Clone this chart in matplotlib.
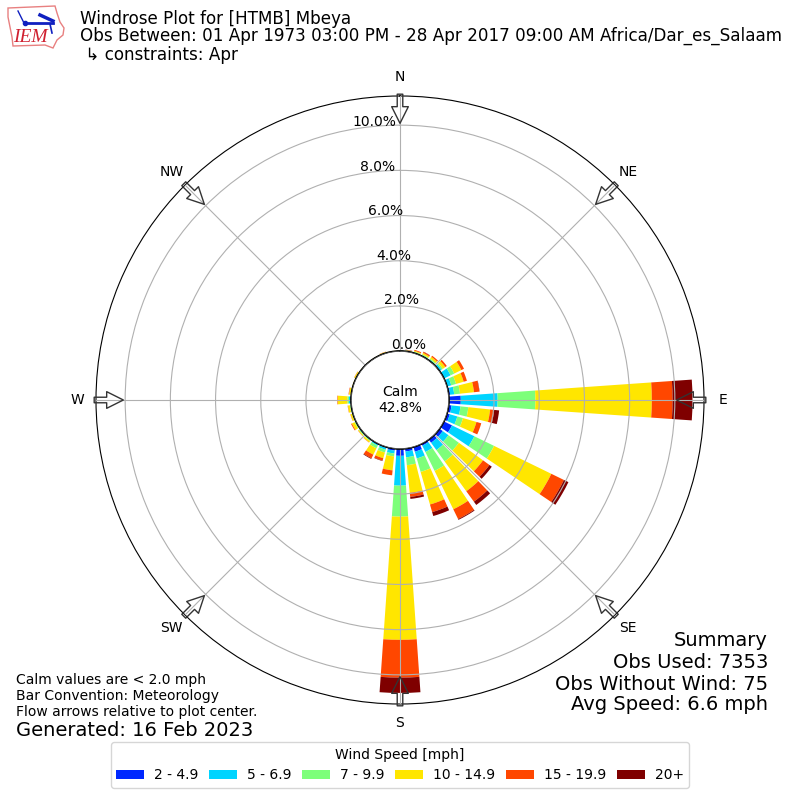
import matplotlib
matplotlib.use("Agg")
import matplotlib.pyplot as plt
from matplotlib.patches import Circle, Polygon
import numpy as np

directions = np.arange(0, 360, 10)
speed_labels = ["2 - 4.9", "5 - 6.9", "7 - 9.9", "10 - 14.9", "15 - 19.9", "20+"]
colors = ["#0028ff", "#00d4ff", "#7dff7a", "#ffe600", "#ff4700", "#7f0000"]

# percent of observations per direction, 0 to 350 degrees
blue = [.01, .01, .01, .01, .01, .02, .02, .02, .07, .53, .13, .13, .40, .18, .18, .09, .22, .13,
        .31, .09, .04, .02, .01, .01, 0, .01, 0, .01, 0, 0, 0, 0, 0, 0, 0, 0]
cyan = [.01, .02, .03, .04, .05, .10, .31, .18, .18, 1.63, .40, .35, 1.10, .31, .40, .31, .31, .26,
        1.32, .13, .09, .07, .04, .04, .04, .02, .04, .09, .02, .01, .02, .01, .01, .01, .02, .01]
green = [.01, .02, .03, .04, .05, .07, .18, .22, .26, 1.67, .35, .26, .97, .57, .62, .93, .62, .35,
         1.37, .13, .13, .13, .04, .04, .04, .02, .03, .07, .02, .01, .02, .01, .01, .01, .02, .01]
yellow = [.01, .01, .04, .07, .09, .13, .35, .35, .62, 5.15, .97, .62, 2.82, 1.32, 1.63, 1.89, 1.50, 1.23,
          5.45, .62, .26, .31, .07, .04, .13, .07, .09, .43, .07, .02, .05, .01, .01, .01, .02, .01]
orange = [0, .01, .04, .05, .06, .08, .13, .15, .24, .92, .18, .22, .62, .35, .57, .48, .35, .18,
          1.67, .22, .11, .18, .01, .01, .04, .01, .01, .02, .02, 0, .01, 0, 0, 0, .01, 0]
dark = [0, .01, 0, .01, 0, 0, 0, 0, .01, .88, .22, 0, .22, .13, .18, .04, .18, .09,
        .68, 0, .02, .03, 0, 0, 0, 0, 0, 0, 0, 0, 0, 0, 0, 0, 0, 0]
series = [blue, cyan, green, yellow, orange, dark]

r_ticks = [0, 2, 4, 6, 8, 10]
r_labels = ["0.0%", "2.0%", "4.0%", "6.0%", "8.0%", "10.0%"]
compass = ["N", "NE", "E", "SE", "S", "SW", "W", "NW"]

fig = plt.figure(figsize=(8, 8), dpi=100)
ax = fig.add_axes([0.12, 0.12, 0.76, 0.76], projection="polar")
ax.set_theta_zero_location("N")
ax.set_theta_direction(-1)

theta = np.deg2rad(directions)
bottom = np.zeros(len(directions))
for vals, color, label in zip(series, colors, speed_labels):
    vals = np.array(vals)
    keep = vals > 0  # zero height wedges leave a mark at the tip
    ax.bar(theta[keep], vals[keep], width=np.deg2rad(8), bottom=bottom[keep], color=color,
           label=label, linewidth=0)
    bottom += vals

ax.set_rorigin(-2.16)
ax.set_ylim(0, 11.29)
ax.set_axisbelow(False)
ax.grid(True, color="#b0b0b0", linewidth=0.8)
ax.set_yticks(r_ticks)
ax.set_yticklabels(r_labels)
ax.set_rlabel_position(350)
ax.set_xticks(np.deg2rad(np.arange(0, 360, 45)))
ax.set_xticklabels(compass)
ax.tick_params(axis="x", pad=3)

# flow arrows pointing at the center
for angle in np.arange(0, 360, 45):
    ax.annotate("", xy=(np.deg2rad(angle), 10.08), xytext=(np.deg2rad(angle), 11.37),
                annotation_clip=False,
                arrowprops=dict(facecolor="none", edgecolor="#333333", width=4, headwidth=12,
                                headlength=12, shrink=0, linewidth=1))

ax.add_patch(Circle((0.5, 0.5), 49 / 608, transform=ax.transAxes, facecolor="white",
                    edgecolor="black", linewidth=1.2, zorder=5))
ax.text(0.5, 0.5, "Calm\n42.8%", transform=ax.transAxes, ha="center", va="center", zorder=6)

# header
fig.text(0.1, 1 - 19 / 800, "Windrose Plot for [HTMB] Mbeya", fontsize=12.02, va="center")
fig.text(0.1, 1 - 36 / 800, "Obs Between: 01 Apr 1973 03:00 PM - 28 Apr 2017 09:00 AM Africa/Dar_es_Salaam",
         fontsize=12.02, va="center")
fig.text(0.1, 1 - 55 / 800, " ↳ constraints: Apr", fontsize=12.02, va="center")

# summary block
for y, s in zip([640, 662, 684, 705],
                ["Summary", "Obs Used: 7353", "Obs Without Wind: 75", "Avg Speed: 6.6 mph"]):
    fig.text(768 / 800, 1 - y / 800, s, fontsize=14, ha="right", va="center")

for y, s in zip([680, 696, 712],
                ["Calm values are < 2.0 mph", "Bar Convention: Meteorology",
                 "Flow arrows relative to plot center."]):
    fig.text(16 / 800, 1 - y / 800, s, fontsize=10, va="center")
fig.text(16 / 800, 1 - 730 / 800, "Generated: 16 Feb 2023", fontsize=14, va="center")

fig.legend(loc="center", bbox_to_anchor=(0.5, 1 - 765 / 800), ncol=6, title="Wind Speed [mph]",
           fontsize=10, title_fontsize=10, handlelength=2, handletextpad=0.7, columnspacing=0.8)

# IEM logo, drawn in pixel coordinates
logo = fig.add_axes([0, 0, 1, 1], zorder=10)
logo.set_xlim(0, 800)
logo.set_ylim(800, 0)
logo.axis("off")
logo.patch.set_alpha(0)
outline = [(8, 8), (55, 6), (57, 13), (60, 22), (64, 28), (63, 35), (57, 40), (53, 48),
           (45, 45), (13, 46), (12, 37), (10, 27), (8, 17)]
logo.add_patch(Polygon(outline, closed=True, fill=False, edgecolor="#e88080", linewidth=1))
logo.plot([25, 53], [23, 23], color="#1020c0", linewidth=2)
logo.plot([18, 21, 24], [11, 17, 23], color="#1020c0", linewidth=1)
logo.plot([40, 53], [15, 21], color="#1020c0", linewidth=2.5)
logo.plot([50, 52], [24, 33], color="#1020c0", linewidth=1.2)
logo.plot([25], [23], "o", color="#1020c0", markersize=3)
logo.text(30, 38, "IEM", color="#d02030", family="Liberation Serif", style="italic", fontsize=14,
          ha="center", va="center")

fig.savefig("out.png", dpi=100)
